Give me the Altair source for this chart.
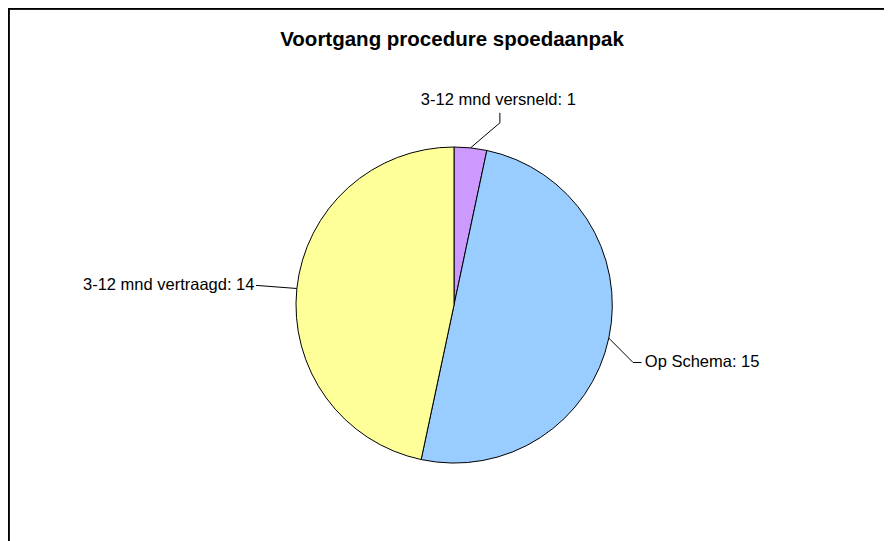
import math
import altair as alt
import pandas as pd

# ---- data ----
categories = ["3-12 mnd versneld", "Op Schema", "3-12 mnd vertraagd"]
values = [1, 15, 14]
colors = ["#CC99FF", "#99CCFF", "#FFFF99"]
title_text = "Voortgang procedure spoedaanpak"

# ---- style / layout ----
R = 158                      # pie radius (px)
label_radius = [205, 199, 200.5]
label_nudge_deg = [6.5, 4.5, -0.3]
label_align = ["center", "left", "right"]
label_baseline = ["alphabetic", "middle", "middle"]
leader_end = [(1.5, -8.0), (-3.3, -1.0), (1.5, -0.3)]
leader_knee = [(0.0, -10.0), (-8.4, 0.0), (0.0, 0.0)]
title_pos = (-2, 259)
W, H = 876, 533
CX, CY = 446, 297            # pie centre inside the view (px)
FONT = "Liberation Sans"

# ---- derived tables ----
total = sum(values)
pie = pd.DataFrame({"category": categories, "value": values,
                    "order": list(range(len(values)))})

rows_lines, rows_text = [], []
cum = 0.0
for i, (c, v) in enumerate(zip(categories, values)):
    mid = (cum + v / 2) / total * 2 * math.pi
    cum += v
    ex, ey = R * math.sin(mid), R * math.cos(mid)
    a = mid + math.radians(label_nudge_deg[i])
    tx, ty = label_radius[i] * math.sin(a), label_radius[i] * math.cos(a)
    endx, endy = tx + leader_end[i][0], ty + leader_end[i][1]
    kx, ky = endx + leader_knee[i][0], endy + leader_knee[i][1]
    for k, (px, py) in enumerate([(ex, ey), (kx, ky), (endx, endy)]):
        rows_lines.append({"category": c, "k": k, "x": px, "y": py})
    rows_text.append({"category": c, "label": f"{c}: {v}", "x": tx, "y": ty})

lines = pd.DataFrame(rows_lines)
texts = pd.DataFrame(rows_text)
title_df = pd.DataFrame({"t": [title_text], "x": [title_pos[0]], "y": [title_pos[1]]})

xs = alt.Scale(domain=[-CX, W - CX], range=[0, W], nice=False, zero=False)
ys = alt.Scale(domain=[CY - H, CY], range=[H, 0], nice=False, zero=False)

arcs = alt.Chart(pie).mark_arc(outerRadius=R, stroke="black", strokeWidth=1).encode(
    x=alt.XDatum(0, scale=xs, axis=None),
    y=alt.YDatum(0, scale=ys, axis=None),
    theta=alt.Theta("value:Q", stack=True),
    order=alt.Order("order:Q"),
    color=alt.Color("category:N", scale=alt.Scale(domain=categories, range=colors),
                    legend=None),
)

leaders = alt.Chart(lines).mark_line(color="black", strokeWidth=1).encode(
    x=alt.X("x:Q", scale=xs, axis=None),
    y=alt.Y("y:Q", scale=ys, axis=None),
    detail="category:N",
    order="k:Q",
)

text_layers = []
for i, c in enumerate(categories):
    text_layers.append(
        alt.Chart(texts).transform_filter(alt.datum.category == c)
        .mark_text(align=label_align[i], baseline=label_baseline[i],
                   font=FONT, fontSize=16.5, color="black")
        .encode(x=alt.X("x:Q", scale=xs, axis=None),
                y=alt.Y("y:Q", scale=ys, axis=None),
                text="label:N")
    )

title = alt.Chart(title_df).mark_text(
    align="center", baseline="alphabetic", font=FONT, fontSize=20.5,
    fontWeight="bold", color="black",
).encode(x=alt.X("x:Q", scale=xs, axis=None),
         y=alt.Y("y:Q", scale=ys, axis=None),
         text="t:N")

# chart frame: only its left and top edges fall inside the window
frame_left = alt.Chart(pie).mark_rule(color="black", strokeWidth=1.5).encode(
    x=alt.value(0.75), y=alt.value(0), y2=alt.value(H))
frame_top = alt.Chart(pie).mark_rule(color="black", strokeWidth=1.5).encode(
    x=alt.value(0), x2=alt.value(W), y=alt.value(0.75))

chart = alt.layer(arcs, leaders, *text_layers, title, frame_left, frame_top).properties(
    width=W, height=H,
    autosize=alt.AutoSizeParams(type="none"),
    padding=0,
).configure(background="white").configure_view(strokeWidth=0)

chart.save("out.html", embed_options={"renderer": "svg", "actions": False})
